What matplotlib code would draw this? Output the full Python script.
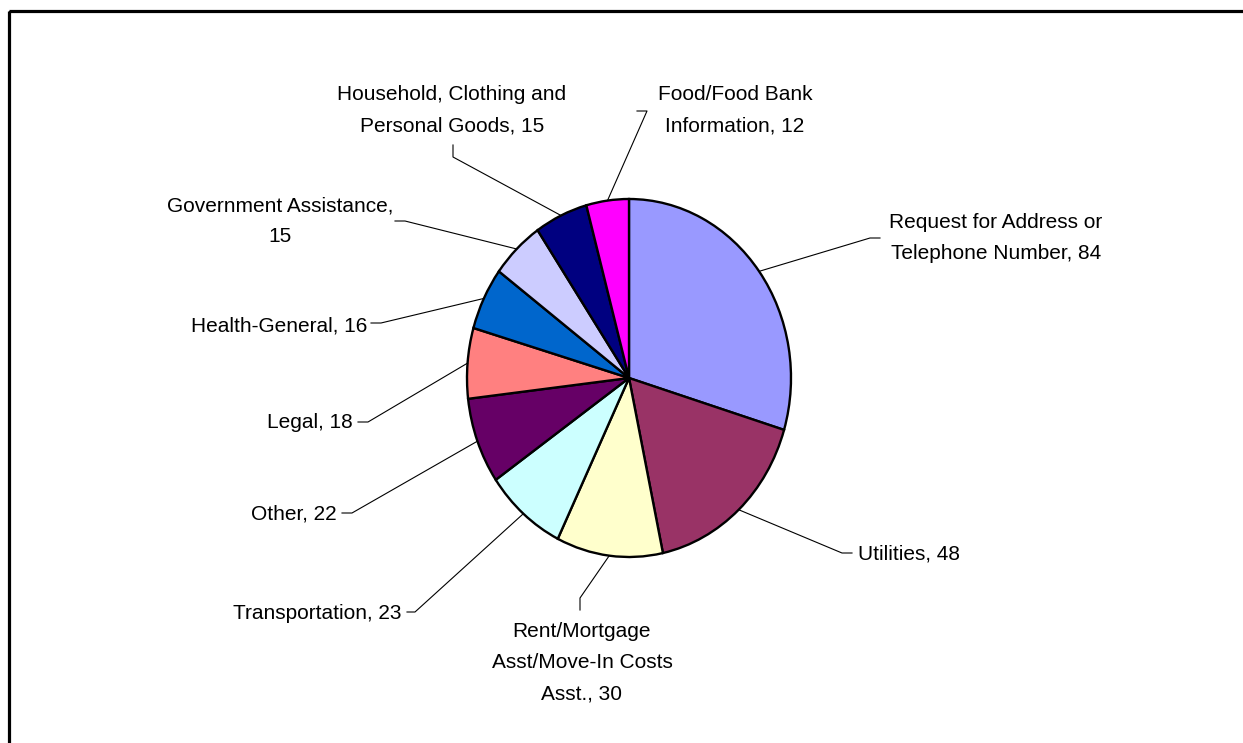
import numpy as np
import matplotlib
matplotlib.use("Agg")
import matplotlib.pyplot as plt
from matplotlib.patches import Rectangle

plt.rcParams['font.family'] = ['Liberation Sans', 'DejaVu Sans']

# data
labels = ["Request for Address or\nTelephone Number, 84",
          "Utilities, 48",
          "Rent/Mortgage\nAsst/Move-In Costs\nAsst., 30",
          "Transportation, 23",
          "Other, 22",
          "Legal, 18",
          "Health-General, 16",
          "Government Assistance,\n15",
          "Household, Clothing and\nPersonal Goods, 15",
          "Food/Food Bank\nInformation, 12"]
values = [84, 48, 30, 23, 22, 18, 16, 15, 15, 12]
colors = ["#9999FF", "#993366", "#FFFFCC", "#CCFFFF", "#660066",
          "#FF8080", "#0066CC", "#CCCCFF", "#000080", "#FF00FF"]

# label layout in pixels (y down): text x, text top, alignment, elbow, tail
text_pos = [(996, 213, 'center'), (858, 544, 'left'), (582, 622, 'center'),
            (402, 604, 'right'), (337, 504, 'right'), (353, 413, 'right'),
            (367, 317, 'right'), (280, 196, 'center'), (452, 85, 'center'),
            (735, 85, 'center')]
elbows = [(870, 238), (842, 553), (580, 598), (415, 612), (352, 513),
          (368, 422), (381, 323), (405, 221), (453, 157), (647, 111)]
tails = [(880, 238), (852, 553), (580, 610), (407, 612), (342, 513),
         (358, 422), (371, 323), (395, 221), (453, 145), (637, 111)]

W, H = 1243, 743
cx, cy, rx, ry = 629, 378, 162, 179

fig = plt.figure(figsize=(W / 100, H / 100), dpi=100)

# pie axes sized so the pie is slightly taller than wide, like the original
axp = fig.add_axes([(cx - rx) / W, (H - cy - ry) / H, 2 * rx / W, 2 * ry / H])
wedges, _ = axp.pie(values, colors=colors, startangle=90, counterclock=False,
                    wedgeprops=dict(edgecolor='black', linewidth=1.7))
axp.set_aspect('auto')
axp.set_xlim(-1, 1)
axp.set_ylim(-1, 1)
axp.axis('off')

# overlay in pixel coords for labels and leader lines
ax = fig.add_axes([0, 0, 1, 1])
ax.set_xlim(0, W)
ax.set_ylim(H, 0)
ax.axis('off')
ax.patch.set_alpha(0)

to_px = axp.transData + ax.transData.inverted()

for w, lab, (tx, ty, ha), el, tl in zip(wedges, labels, text_pos, elbows, tails):
    mid = np.deg2rad((w.theta1 + w.theta2) / 2)
    ex, ey = to_px.transform((np.cos(mid), np.sin(mid)))
    ax.plot([ex, el[0], tl[0]], [ey, el[1], tl[1]], color='black', lw=0.8)
    ax.text(tx, ty, lab, ha=ha, va='top', fontsize=15, linespacing=1.82,
            multialignment='center')

# chart frame (right and bottom edges fall outside the image)
ax.add_patch(Rectangle((9, 10.5), 1400, 900, fill=False, edgecolor='black',
                       lw=2.3, clip_on=False))

fig.savefig("out.png", dpi=100)
